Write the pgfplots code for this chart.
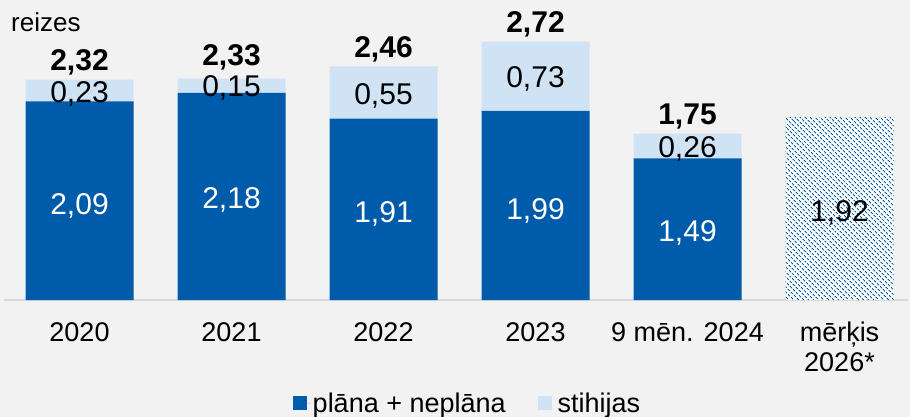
\documentclass[border=0pt]{standalone}
\usepackage{fontspec}
\setmainfont{Liberation Sans}
\usepackage{pgfplots}
\pgfplotsset{compat=1.18}
\usetikzlibrary{patterns.meta}
\definecolor{dblue}{HTML}{005BAA}
\definecolor{lblue}{HTML}{CFE3F5}
\definecolor{bg}{HTML}{F2F2F2}
\definecolor{axgray}{HTML}{D9D9D9}
\newcommand{\vfont}{\fontsize{30bp}{34bp}\selectfont}
\newcommand{\tfont}{\fontsize{27bp}{30bp}\selectfont}
\pgfplotsset{
  base/.style={
    scale only axis, width=904.4bp, height=285bp,
    xmin=-0.5, xmax=5.45, ymin=0, ymax=3,
    at={(3.5bp,117bp)}, anchor=south west, clip=false,
    bar width=108bp,
  }
}
\begin{document}
\begin{tikzpicture}
\useasboundingbox (0,0) rectangle (910bp,417bp);
\fill[bg] (0,0) rectangle (910bp,417bp);
\begin{axis}[base, ybar stacked,
  axis y line=none, axis x line*=bottom,
  x axis line style={axgray, line width=1.5bp, -},
  xtick={0,1,2,3,4,5},
  xticklabels={2020,2021,2022,2023,9 mēn. 2024,{mērķis\\2026*}},
  major tick length=0pt,
  xticklabel style={font=\tfont, align=center, anchor=north, inner sep=0pt, yshift=-22bp},
  legend columns=2,
  legend style={at={(0.513,-0.362)}, anchor=center, draw=none, fill=none,
    font=\tfont, inner sep=0pt,
    /tikz/every even column/.append style={column sep=30bp}},
  legend cell align=left,
]
\addplot[fill=dblue, draw=none,
  legend image code/.code={\path (0bp,0bp) rectangle (18bp,0bp);\fill[dblue] (0bp,-7bp) rectangle (14bp,7bp);}]
  coordinates {(0,2.09) (1,2.18) (2,1.91) (3,1.99) (4,1.49)};
\addlegendentry{plāna + neplāna}
\addplot[fill=lblue, draw=none,
  legend image code/.code={\path (0bp,0bp) rectangle (18bp,0bp);\fill[lblue] (0bp,-7bp) rectangle (14bp,7bp);}]
  coordinates {(0,0.23) (1,0.15) (2,0.55) (3,0.73) (4,0.26)};
\addlegendentry{stihijas}
\end{axis}
\begin{axis}[base, ybar, hide axis]
\addplot[fill=white, draw=none,
  postaction={pattern={Lines[angle=-45, distance=3.6bp, line width=1.0bp]}, pattern color=dblue}]
  coordinates {(5,1.92)};
\node[black, font=\vfont, inner sep=0pt, yshift=-4bp] at (axis cs:5,0.96) {1,92};
% dark segment labels
\node[white, font=\vfont, inner sep=0pt, yshift=-5bp] at (axis cs:0,1.045) {2,09};
\node[white, font=\vfont, inner sep=0pt, yshift=-3bp] at (axis cs:1,1.09) {2,18};
\node[white, font=\vfont, inner sep=0pt, yshift=-5bp] at (axis cs:2,0.955) {1,91};
\node[white, font=\vfont, inner sep=0pt, yshift=-5bp] at (axis cs:3,0.995) {1,99};
\node[white, font=\vfont, inner sep=0pt, yshift=-4bp] at (axis cs:4,0.745) {1,49};
% light segment labels
\node[black, font=\vfont, inner sep=0pt, yshift=-3bp] at (axis cs:0,2.205) {0,23};
\node[black, font=\vfont, inner sep=0pt, yshift=-2bp] at (axis cs:1,2.255) {0,15};
\node[black, font=\vfont, inner sep=0pt, yshift=-4bp] at (axis cs:2,2.185) {0,55};
\node[black, font=\vfont, inner sep=0pt, yshift=-3bp] at (axis cs:3,2.355) {0,73};
\node[black, font=\vfont, inner sep=0pt, yshift=-3bp] at (axis cs:4,1.62) {0,26};
% totals
\node[black, font=\vfont\bfseries, inner sep=0pt, anchor=base, yshift=9bp] at (axis cs:0,2.32) {2,32};
\node[black, font=\vfont\bfseries, inner sep=0pt, anchor=base, yshift=13bp] at (axis cs:1,2.33) {2,33};
\node[black, font=\vfont\bfseries, inner sep=0pt, anchor=base, yshift=9bp] at (axis cs:2,2.46) {2,46};
\node[black, font=\vfont\bfseries, inner sep=0pt, anchor=base, yshift=9bp] at (axis cs:3,2.72) {2,72};
\node[black, font=\vfont\bfseries, inner sep=0pt, anchor=base, yshift=9bp] at (axis cs:4,1.75) {1,75};
\end{axis}
\node[anchor=base west, inner sep=0pt, font=\fontsize{26bp}{30bp}\selectfont] at (11bp,385bp) {reizes};
\end{tikzpicture}
\end{document}
